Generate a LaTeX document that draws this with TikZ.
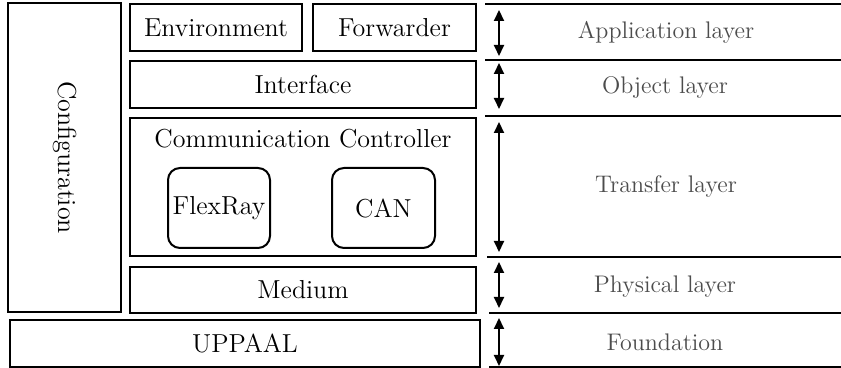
\documentclass[tikz,border=0pt]{standalone}
\usepackage{xcolor}
\usetikzlibrary{arrows.meta}

\tikzset{
  box/.style={draw, line width=1pt, inner sep=0pt, font=\fontsize{13}{15}\selectfont},
  module/.style={box, rounded corners=6pt},
  layername/.style={text=black!70, font=\fontsize{12}{14}\selectfont},
  span/.style={{Triangle[length=5.5pt,width=5pt]}-{Triangle[length=5.5pt,width=5pt]}, line width=1pt},
  rule/.style={line width=1pt}
}

\begin{document}
\begin{tikzpicture}[x=0.5pt, y=-0.5pt]
\useasboundingbox (0,0) rectangle (841,368);

% left stack
\node (config) at (64.5,157.5) [box, rotate=-90, minimum width=154.5pt, minimum height=56.5pt] {Configuration};
\node (env) at (216,27.5) [box, minimum width=86pt, minimum height=23.5pt] {Environment};
\node (fwd) at (394.5,27.5) [box, minimum width=81.5pt, minimum height=23.5pt] {Forwarder};
\node (iface) at (303,84.5) [box, minimum width=173pt, minimum height=23.5pt] {Interface};
\node (cc) at (303,187) [box, minimum width=173pt, minimum height=69pt] {};
\node (cctitle) at (303,139) [font=\fontsize{13}{15}\selectfont] {Communication Controller};
\node (flexray) at (219,208) [module, minimum width=51pt, minimum height=40pt] {FlexRay};
\node (can) at (383.5,208) [module, minimum width=51.5pt, minimum height=40pt] {CAN};
\node (medium) at (303,290) [box, minimum width=173pt, minimum height=23pt] {Medium};
\node (uppaal) at (245,343.5) [box, minimum width=235pt, minimum height=23.5pt] {UPPAAL};

% layer rules
\draw [rule] (485,4) -- (841,4);
\draw [rule] (485,60) -- (841,60);
\draw [rule] (485,116) -- (841,116);
\draw [rule] (487,257) -- (841,257);
\draw [rule] (489,313) -- (841,313);
\draw [rule] (489,367) -- (841,367);

% extents
\coordinate (app-t) at (499,10);
\coordinate (app-b) at (499,56);
\coordinate (obj-t) at (499,63);
\coordinate (obj-b) at (499,109);
\coordinate (trf-t) at (499,122);
\coordinate (trf-b) at (499,252);
\coordinate (phy-t) at (499,262);
\coordinate (phy-b) at (499,308);
\coordinate (fnd-t) at (499,318);
\coordinate (fnd-b) at (499,366);
\draw [span] (app-t) -- (app-b);
\draw [span] (obj-t) -- (obj-b);
\draw [span] (trf-t) -- (trf-b);
\draw [span] (phy-t) -- (phy-b);
\draw [span] (fnd-t) -- (fnd-b);

% layer names
\node (app) at (666,32) [layername] {Application layer};
\node (obj) at (665,88) [layername] {Object layer};
\node (trf) at (666,187) [layername] {Transfer layer};
\node (phy) at (665,287) [layername] {Physical layer};
\node (fnd) at (665,342) [layername] {Foundation};
\end{tikzpicture}
\end{document}
